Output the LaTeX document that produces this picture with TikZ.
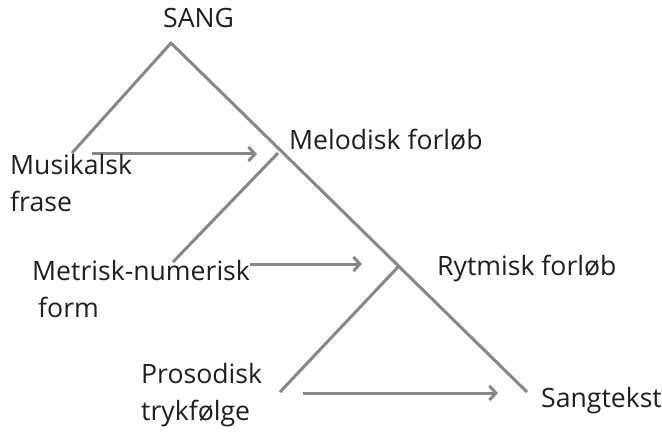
\documentclass[tikz,border=0pt]{standalone}
\usepackage{fontspec}
\setmainfont{Open Sans}
\usepackage{tikz}
\usetikzlibrary{arrows.meta}

\begin{document}
\begin{tikzpicture}[x=1pt,y=-1pt]

\tikzstyle{gry}=[line width=3pt,draw=black!47,join=round]
\tikzstyle{arr}=[gry,-{Straight Barb[length=6.5pt,width=14pt]}]
\tikzstyle{lbl}=[anchor=base west,inner sep=0pt,text=black!88,align=left,
  font=\fontsize{26.6}{37}\selectfont]

\useasboundingbox (0,0) rectangle (662,433);

% tree
\node[shape=coordinate] (top) at (171,43){};
\node[shape=coordinate] (tl) at (72,153){};
\node[shape=coordinate] (tr) at (527,392){};
\node[shape=coordinate] (ja) at (278,153){};
\node[shape=coordinate] (ea) at (173,262){};
\node[shape=coordinate] (jb) at (398,267){};
\node[shape=coordinate] (eb) at (280,392){};

% arrows
\node[shape=coordinate] (sa) at (92,154){};
\node[shape=coordinate] (fa) at (257,154){};
\node[shape=coordinate] (sb) at (250,264){};
\node[shape=coordinate] (fb) at (362,264){};
\node[shape=coordinate] (sc) at (303,393){};
\node[shape=coordinate] (fc) at (498,393){};

\draw[gry] (tl)--(top)--(tr);
\draw[gry] (ja)--(ea);
\draw[gry] (jb)--(eb);

\draw[arr] (sa)--(fa);
\draw[arr] (sb)--(fb);
\draw[arr] (sc)--(fc);

% labels (multi-line ones sit on their last baseline)
\node[lbl] (sang) at (163,28) {SANG};
\node[lbl] (melo) at (289,150) {Melodisk forløb};
\node[lbl] (musi) at (10,212) {Musikalsk\\frase};
\node[lbl] (metr) at (32,317) {Metrisk-numerisk\\\hspace*{6pt}form};
\node[lbl] (rytm) at (437,275) {Rytmisk forløb};
\node[lbl] (pros) at (141,420) {Prosodisk\\trykfølge};
\node[lbl] (sgtk) at (541,407) {Sangtekst};

\end{tikzpicture}
\end{document}
